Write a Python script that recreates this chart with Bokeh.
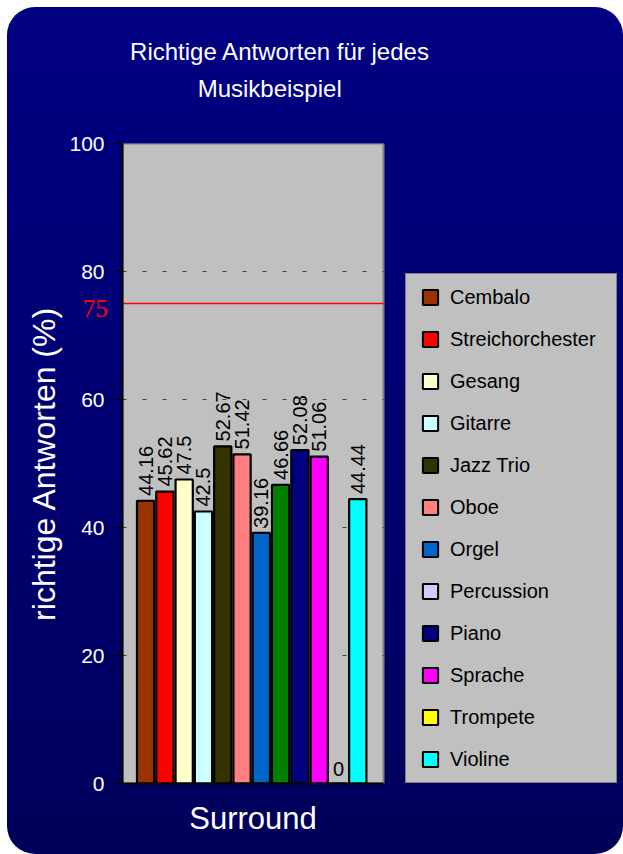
import math
from bokeh.plotting import figure
from bokeh.models import (Range1d, ColumnDataSource, Label, Legend, LegendItem, FixedTicker)
from bokeh.core.properties import value
from bokeh.embed import file_html
from bokeh.resources import INLINE

# ---------------- data ----------------
category = ["Surround"]
instruments = ["Cembalo", "Streichorchester", "Gesang", "Gitarre", "Jazz Trio", "Oboe",
               "Orgel", "Percussion", "Piano", "Sprache", "Trompete", "Violine"]
values = [44.16, 45.62, 47.5, 42.5, 52.67, 51.42, 39.16, 46.66, 52.08, 51.06, 0, 44.44]
bar_colors = ["#993300", "#FF0000", "#FFFFCC", "#CCFFFF", "#333300", "#FF8080",
              "#0066CC", "#008000", "#000080", "#FF00FF", "#FFFF00", "#00FFFF"]
legend_colors = ["#993300", "#FF0000", "#FFFFCC", "#CCFFFF", "#333300", "#FF8080",
                 "#0066CC", "#CCCCFF", "#000080", "#FF00FF", "#FFFF00", "#00FFFF"]
threshold = 75
y_ticks = [0, 20, 40, 60, 80, 100]
title_lines = ["Richtige Antworten für jedes", "Musikbeispiel"]
y_axis_label = "richtige Antworten (%)"

FONT = "Liberation Sans"

# ---------------- layout ----------------
W, H = 616, 847
FRAME_L, FRAME_T, FRAME_B = 115, 136, 71
CAT_PX = 261                          # width of the category block in pixels
frame_w = W - FRAME_L

p = figure(width=W, height=H,
           x_range=Range1d(0, frame_w / CAT_PX),
           y_range=Range1d(y_ticks[0], y_ticks[-1]),
           output_backend="svg", toolbar_location=None,
           min_border_left=FRAME_L, min_border_right=0,
           min_border_top=FRAME_T, min_border_bottom=FRAME_B)

p.styles = {"background": "linear-gradient(180deg, #000082 0%, #000070 55%, #00005A 100%)",
            "border-radius": "28px", "overflow": "hidden",
            "margin-left": "7px", "margin-top": "7px"}
p.border_fill_alpha = 0
p.background_fill_alpha = 0
p.outline_line_color = None

n = len(instruments)
pitch = 0.0739
first = 0.5 - 0.4115
xs = [first + i * pitch for i in range(n)]
y_top = y_ticks[-1]

# plot area (grey block covering the category)
p.quad(left=[0], right=[1], bottom=[y_ticks[0]], top=[y_top],
       fill_color="#C0C0C0", line_color="#808080", line_width=2)

# dashed grid lines
gy = y_ticks[1:-1]
p.segment(x0=[0] * len(gy), x1=[1] * len(gy), y0=gy, y1=gy,
          line_color="#404040", line_dash="4 16", line_width=1)

# threshold line
p.segment(x0=[0], x1=[1], y0=[threshold], y1=[threshold], line_color="#FF0000", line_width=1.5)

src = ColumnDataSource(dict(x=xs, value=values, color=bar_colors,
                            legend_color=legend_colors, name=instruments))

p.vbar(x="x", top="value", bottom=0, width=0.066, source=src,
       fill_color="color", line_color="black", line_width=2.2)

# invisible renderer carrying the legend swatches
sw = p.scatter(x="x", y="value", source=src, marker="square", size=15,
               fill_color="legend_color", line_color="black", line_width=2)
sw.visible = False

# value labels
nz = [i for i in range(n) if values[i] != 0]
z = [i for i in range(n) if values[i] == 0]
src_nz = ColumnDataSource(dict(x=[xs[i] for i in nz], value=[values[i] for i in nz],
                               label=[f"{values[i]:g}" for i in nz]))
src_z = ColumnDataSource(dict(x=[xs[i] for i in z], value=[values[i] for i in z],
                              label=[f"{values[i]:g}" for i in z]))
p.text(x="x", y="value", text="label", source=src_nz, angle=math.pi / 2,
       text_align="left", text_baseline="middle", y_offset=-5,
       text_font=value(FONT), text_font_size="20px", text_color="black")
p.text(x="x", y="value", text="label", source=src_z, angle=0,
       text_align="center", text_baseline="alphabetic", y_offset=-15,
       text_font=value(FONT), text_font_size="20px", text_color="black")

# texts outside the frame live in the "above" panel (not clipped there)
p.add_layout(Label(x=-0.1046, y=74.2, text=str(threshold), text_color="#FF0000",
                   text_font="Liberation Serif", text_font_size="25px",
                   text_align="center", text_baseline="middle"), "above")
p.add_layout(Label(x=0.604, y=114.4, text=title_lines[0], text_color="white",
                   text_font=FONT, text_font_size="24px",
                   text_align="center", text_baseline="middle"), "above")
p.add_layout(Label(x=0.564, y=108.6, text=title_lines[1], text_color="white",
                   text_font=FONT, text_font_size="24px",
                   text_align="center", text_baseline="middle"), "above")

# axes
p.yaxis.bounds = (y_ticks[0], y_top)
p.yaxis.ticker = FixedTicker(ticks=y_ticks)
p.yaxis.axis_label = y_axis_label
p.yaxis.axis_label_text_color = "white"
p.yaxis.axis_label_text_font = FONT
p.yaxis.axis_label_text_font_size = "32px"
p.yaxis.axis_label_text_font_style = "normal"
p.yaxis.axis_label_standoff = 4
p.yaxis.major_label_text_color = "white"
p.yaxis.major_label_text_font = FONT
p.yaxis.major_label_text_font_size = "21px"
p.yaxis.major_label_standoff = 10
p.yaxis.major_tick_out = 8
p.yaxis.major_tick_in = 0
p.yaxis.major_tick_line_color = "black"
p.yaxis.major_tick_line_width = 1.5
p.yaxis.minor_tick_line_color = None
p.yaxis.axis_line_color = "black"
p.yaxis.axis_line_width = 2

p.xaxis.bounds = (0, 1)
p.xaxis.ticker = FixedTicker(ticks=[0.5])
p.xaxis.major_label_overrides = {0.5: category[0]}
p.xaxis.major_label_text_color = "white"
p.xaxis.major_label_text_font = FONT
p.xaxis.major_label_text_font_size = "31px"
p.xaxis.major_label_standoff = 11
p.xaxis.major_tick_line_color = None
p.xaxis.minor_tick_line_color = None
p.xaxis.axis_line_color = "black"
p.xaxis.axis_line_width = 2

p.xgrid.grid_line_color = None
p.ygrid.grid_line_color = None

# legend
items = [LegendItem(label=instruments[i], renderers=[sw], index=i) for i in range(n)]
legend = Legend(items=items, location=(283, 0), margin=0, padding=4, spacing=4,
                glyph_width=40, glyph_height=38, label_standoff=0, label_width=162,
                label_text_font=FONT, label_text_font_size="20px", label_text_color="black",
                background_fill_color="#C0C0C0", background_fill_alpha=1,
                border_line_color="#404040", border_line_width=1.5,
                inactive_fill_alpha=0)
p.add_layout(legend)

open("out.html", "w").write(file_html(p, INLINE))
